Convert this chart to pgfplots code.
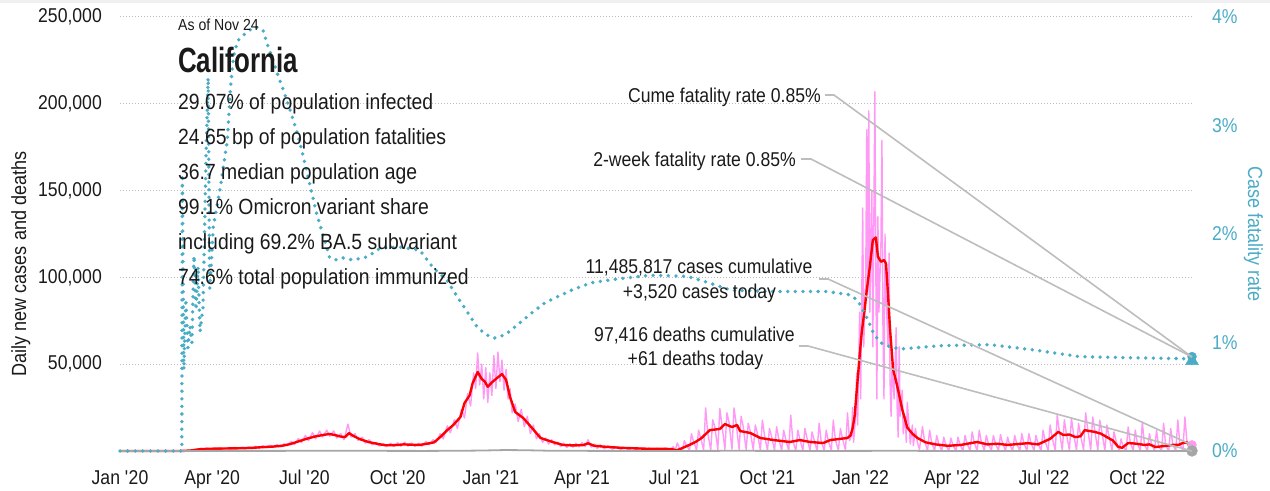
\documentclass[border=0pt]{standalone}
\usepackage{pgfplots}
\usepackage{pgfplotstable}
\pgfplotsset{compat=1.18}
\usepackage{fontspec}
\setmainfont{Liberation Sans}[FakeStretch=0.88]
\newfontfamily\titlefont{Liberation Sans}[FakeStretch=0.74]
\definecolor{teal2}{HTML}{4BACC6}
\definecolor{pinkc}{HTML}{FF99F5}
\definecolor{gridc}{HTML}{BBBBBB}
\definecolor{leader}{HTML}{BDBDBD}
\definecolor{deathc}{HTML}{A6A6A6}
\definecolor{txt}{HTML}{1A1A1A}
\definecolor{topband}{HTML}{F0F0F0}

\pgfplotstableread{
d v
0 0
58 0
62 50
65 150
68 300
71 600
74 900
77 1100
80 1400
83 1000
86 1600
89 1100
92 1700
95 900
99 1800
102 1000
106 2000
109 1100
113 2100
116 1200
120 2200
123 1300
127 2400
130 1400
134 2800
137 1600
141 3000
144 1900
148 3400
151 2000
155 3600
158 2400
162 4200
165 3000
169 5600
172 3600
176 7200
179 4800
183 9000
186 6000
190 10500
193 7000
197 11500
200 8000
204 12000
207 8500
211 11500
214 7500
218 10000
221 6500
225 15500
228 8000
232 10000
235 6000
239 8000
242 4500
246 6500
249 3500
253 5000
256 2800
260 4300
263 2500
267 4500
270 2600
274 4800
277 2800
281 5000
284 2800
288 4600
291 2700
295 4500
298 2800
302 5500
305 3500
309 6500
312 5000
316 10000
319 7000
323 14500
326 10500
330 18000
333 13000
337 24000
340 19000
343 33000
346 26000
349 45000
351 36000
353 56500
355 38000
357 50000
359 30000
361 48000
363 28000
365 45000
367 32000
369 55000
371 36000
373 57000
375 40000
377 52400
379 35000
381 47000
383 30000
385 36000
387 22000
390 27000
393 17000
396 24000
399 14000
402 20000
405 10000
408 15000
411 7000
414 10000
417 5000
420 7500
423 4000
426 6500
429 3500
432 5000
435 2500
438 4500
441 2000
444 4200
447 2200
450 4500
453 2400
456 4800
459 2500
462 6500
465 2200
468 4000
471 1500
474 3500
478 1200
482 3000
486 1000
490 2500
494 800
498 2200
502 600
506 2000
510 500
514 1800
518 400
522 1700
526 200
530 1600
534 200
538 1700
542 300
546 2500
548 300
550 4600
552 1800
554 800
555 100
557 6000
559 3200
561 1500
562 200
564 10000
566 5500
568 2500
569 300
571 12000
573 7700
575 3000
576 400
578 24800
580 10500
582 4000
583 500
585 18000
587 14000
589 5500
590 800
592 24500
594 15400
596 6000
597 900
599 22000
601 16800
603 6000
604 1000
606 24800
608 16300
610 6000
611 900
613 20000
615 14300
617 5000
618 800
620 16000
622 11500
624 4200
625 600
627 15000
629 10300
631 3800
632 500
634 17800
636 9400
638 3400
639 500
641 13000
643 8500
645 3100
646 400
648 14000
650 7500
652 2700
653 400
655 12000
657 6700
659 2400
660 300
662 20700
664 6000
666 2200
667 300
669 12000
671 6600
673 2400
674 300
676 13000
678 7500
680 2700
681 400
683 11000
685 6400
687 2300
688 300
690 16000
692 5800
694 2100
695 300
697 12000
699 6000
701 2200
702 300
704 17800
706 6500
708 2400
709 400
711 13000
713 7400
715 2700
716 500
718 22000
720 6000
722 9000
723 25000
724 5000
726 20000
727 45000
728 15000
730 80000
731 30000
733 140000
734 60000
736 100000
737 185000
738 90000
739 196000
740 80000
742 150000
743 60000
745 207000
746 100000
747 30000
748 135000
749 80000
751 120000
752 179000
753 70000
754 30000
755 125000
756 90000
758 60000
759 114000
760 40000
761 20000
762 50000
764 30000
766 71000
767 25000
768 8000
769 60000
770 20000
772 35000
773 10000
775 20000
776 5000
777 28000
779 12000
780 4000
782 15000
783 3000
785 13000
787 5000
789 1000
792 14000
794 6000
796 2200
797 200
799 12000
801 5000
803 1800
804 200
806 9000
808 4200
810 1500
811 200
813 8000
815 3600
817 1300
818 200
820 7500
822 3300
824 1200
825 200
827 8000
829 3600
831 1300
832 200
834 9000
836 4200
838 1500
839 200
841 11000
843 5000
845 1800
846 200
848 12000
850 5500
852 2000
853 200
855 9000
857 4300
859 1600
860 200
862 9000
864 4400
866 1600
867 200
869 9500
871 4400
873 1600
874 200
876 8000
878 3800
880 1400
881 200
883 9000
885 4200
887 1500
888 200
890 10000
892 4600
894 1700
895 200
897 10000
899 4800
901 1800
902 200
904 9000
906 4400
908 1600
909 200
911 12000
913 5700
915 2100
916 300
918 15000
920 7700
922 2800
923 300
925 20700
927 11500
929 4200
930 400
932 18000
934 10000
936 3700
937 400
939 19000
941 10000
943 3700
944 400
946 16000
948 9100
950 3300
951 400
953 22000
955 13000
957 4800
958 400
960 19600
962 12000
964 4500
965 400
967 17800
969 11000
971 4000
972 400
974 15000
976 8800
978 3200
979 300
981 11000
983 6000
985 2200
986 200
988 7000
990 2500
992 1000
993 100
995 13800
997 5000
999 1800
1000 200
1002 12000
1004 4700
1006 1700
1007 200
1009 16700
1011 3900
1013 1400
1014 200
1016 10000
1018 4200
1020 1500
1021 200
1023 12000
1025 2600
1027 1000
1028 200
1030 16000
1032 3100
1034 1100
1035 200
1037 13000
1039 3700
1041 1400
1042 200
1044 17800
1046 4000
1048 1400
1049 200
1051 19600
1053 5200
1055 2000
1056 500
1058 3520
}\pinkdata

\pgfplotstableread{
d v
0 0
55 0
62 50
70 300
76 800
80 1100
90 1300
100 1400
110 1500
120 1600
130 1800
140 2200
150 2500
160 3000
168 4000
176 5500
184 7000
192 8300
200 9200
207 9800
212 9200
218 8300
222 8000
226 10300
230 8800
236 7000
245 5200
255 4000
262 3300
272 3400
280 3800
288 3600
296 3500
304 4300
310 5000
316 8000
323 12000
329 15000
336 19600
340 27600
345 32000
348 39000
353 45500
357 41500
360 40000
363 37000
367 39500
372 42000
377 44300
381 41000
385 31000
390 22500
398 19000
407 13000
415 7500
427 5200
437 3500
447 3200
457 3400
462 4400
468 3000
480 2400
495 1800
510 1500
525 1200
540 1200
546 900
549 300
553 1200
562 3500
568 5200
574 7500
582 12000
592 12700
597 15500
604 13800
609 15000
612 11500
622 10400
632 7500
645 6300
661 5200
671 6300
681 5200
694 4600
701 6300
718 7500
721 9000
723 13000
725 20000
728 41000
730 55000
732 68000
735 82000
737 92700
740 106000
743 121500
746 123000
748 112000
751 109000
754 110000
756 108000
758 90000
760 70000
763 47000
766 40000
768 35000
772 24000
777 13500
782 10000
787 7500
795 5000
805 3800
817 3000
830 3500
846 5200
856 3800
866 4200
876 3500
886 4000
896 4500
906 3800
918 7000
926 11000
931 9200
937 9500
943 8000
948 8500
952 12000
957 11500
962 11000
968 10000
974 8000
980 6000
985 2500
989 1800
995 4600
1003 4200
1011 3500
1016 3800
1022 2300
1030 2800
1039 3500
1045 3600
1049 4600
1053 5000
1055 3500
1058 3900
}\reddata

\pgfplotstableread{
d v
0 0
60 0
80 50
100 80
150 70
200 130
230 140
260 90
300 50
340 150
360 300
380 550
400 450
420 200
450 100
500 40
560 30
600 100
640 80
700 40
740 80
760 150
780 100
820 30
900 20
1000 30
1058 61
}\deathdata

\pgfplotstableread{
d v
0 0
61 0
61.5 2.55
63 0.75
65 1.4
67 0.95
69 1.15
71 1.0
73 1.8
75 1.3
77 1.7
79 1.1
82 1.33
85 2.75
87 3.44
88.5 1.5
90 1.7
92 2.06
99 2.43
106 2.87
109 3.35
112 3.63
116 3.78
125 3.86
133 3.91
141 3.88
145 3.76
151 3.60
156 3.46
161 3.33
168 3.14
175 2.93
181 2.71
188 2.43
194 2.19
202 1.94
207 1.78
214 1.76
220 1.78
230 1.76
244 1.79
257 1.87
276 1.88
296 1.85
309 1.69
323 1.57
333 1.42
345 1.25
352 1.15
360 1.08
369 1.04
380 1.07
392 1.16
406 1.27
420 1.37
445 1.48
465 1.55
486 1.58
523 1.62
560 1.61
581 1.55
604 1.48
648 1.47
698 1.47
720 1.44
728 1.39
733 1.30
738 1.21
743 1.10
750 1.00
760 0.96
770 0.94
783 0.95
809 0.97
859 0.98
903 0.93
947 0.87
993 0.86
1058 0.85
}\cfrdata

\begin{document}
\begin{tikzpicture}
\fill[topband] (0bp,488bp) rectangle (1270bp,491bp);
\begin{axis}[
  at={(120bp,40bp)}, anchor=south west,
  scale only axis, width=1072bp, height=434bp,
  xmin=0, xmax=1058, ymin=0, ymax=250000,
  clip=false,
  axis line style={draw=none},
  major tick length=0pt,
  scaled y ticks=false,
  xtick={0,91,182,274,366,456,547,639,731,821,912,1004},
  xticklabels={Jan \textquotesingle20,Apr \textquotesingle20,Jul \textquotesingle20,Oct \textquotesingle20,Jan \textquotesingle21,Apr \textquotesingle21,Jul \textquotesingle21,Oct \textquotesingle21,Jan \textquotesingle22,Apr \textquotesingle22,Jul \textquotesingle22,Oct \textquotesingle22},
  ytick={50000,100000,150000,200000,250000},
  yticklabels={50{,}000,100{,}000,150{,}000,200{,}000,250{,}000},
  ymajorgrids,
  grid style={gridc, line width=1bp, dash pattern=on 1bp off 2bp},
  tick label style={font=\fontsize{20bp}{24bp}\selectfont, text=txt},
  xticklabel style={anchor=north, inner sep=0pt, yshift=-19bp},
  yticklabel style={anchor=east, inner sep=0pt, xshift=-18bp},
]
\addplot[pinkc, line width=1.4bp, line join=round] table[x=d,y=v] {\pinkdata};
\addplot[red, line width=2.4bp, line join=round] table[x=d,y=v] {\reddata};
\addplot[deathc, line width=1.8bp] table[x=d,y=v] {\deathdata};
\addplot[only marks, mark=*, mark size=4.5bp, color=pinkc] coordinates {(1058,3520)};
\addplot[only marks, mark=*, mark size=5.5bp, color=deathc] coordinates {(1058,61)};
\end{axis}
\begin{axis}[
  at={(120bp,40bp)}, anchor=south west,
  scale only axis, width=1072bp, height=434bp,
  xmin=0, xmax=1058, ymin=0, ymax=4,
  clip=false,
  axis x line=none, axis y line*=right,
  axis line style={draw=none},
  major tick length=0pt,
  ytick={0,1,2,3,4},
  yticklabels={0\%,1\%,2\%,3\%,4\%},
  yticklabel style={font=\fontsize{20bp}{24bp}\selectfont, text=teal2, anchor=west, inner sep=0pt, xshift=20bp},
]
\addplot[teal2, line width=3.8bp, dash pattern=on 0bp off 7.6bp, line cap=round] table[x=d,y=v] {\cfrdata};
\addplot[only marks, mark=triangle*, mark size=7.5bp, color=teal2] coordinates {(1058,0.83)};
\addplot[only marks, mark=*, mark size=4.5bp, color=teal2] coordinates {(1058,0.87)};
\end{axis}

% leader lines
\begin{scope}[leader, line width=1.6bp]
\draw (825bp,396bp) -- (834bp,396bp) -- (1192bp,134bp);
\draw (801bp,332bp) -- (811bp,332bp) -- (1192bp,134bp);
\draw (819bp,212bp) -- (828bp,212bp) -- (1192bp,46bp);
\draw (799bp,145bp) -- (808bp,145bp) -- (1192bp,40bp);
\end{scope}

% info block
\begin{scope}[every node/.style={inner sep=0pt, text=txt}]
\node[anchor=base west, font=\fontsize{16bp}{18bp}\selectfont] at (178bp,460bp) {As of Nov 24};
\node[anchor=base west, font=\titlefont\bfseries\fontsize{35bp}{40bp}\selectfont] at (178bp,418bp) {California};
\node[anchor=base west, font=\fontsize{22bp}{26bp}\selectfont] at (178bp,381bp) {29.07\% of population infected};
\node[anchor=base west, font=\fontsize{22bp}{26bp}\selectfont] at (178bp,346bp) {24.65 bp of population fatalities};
\node[anchor=base west, font=\fontsize{22bp}{26bp}\selectfont] at (178bp,311bp) {36.7 median population age};
\node[anchor=base west, font=\fontsize{22bp}{26bp}\selectfont] at (178bp,276bp) {99.1\% Omicron variant share};
\node[anchor=base west, font=\fontsize{22bp}{26bp}\selectfont] at (178bp,241bp) {including 69.2\% BA.5 subvariant};
\node[anchor=base west, font=\fontsize{22bp}{26bp}\selectfont] at (178bp,206bp) {74.6\% total population immunized};

\node[anchor=base east, font=\fontsize{20bp}{24bp}\selectfont] at (821bp,388bp) {Cume fatality rate 0.85\%};
\node[anchor=base east, font=\fontsize{20bp}{24bp}\selectfont] at (796bp,324bp) {2-week fatality rate 0.85\%};
\node[anchor=base, font=\fontsize{20bp}{24bp}\selectfont] at (699bp,217bp) {11,485,817 cases cumulative};
\node[anchor=base, font=\fontsize{20bp}{24bp}\selectfont] at (699.5bp,192bp) {+3,520 cases today};
\node[anchor=base, font=\fontsize{20bp}{24bp}\selectfont] at (694.5bp,149bp) {97,416 deaths cumulative};
\node[anchor=base, font=\fontsize{20bp}{24bp}\selectfont] at (695.5bp,125bp) {+61 deaths today};

\node[rotate=90, anchor=base, font=\fontsize{20.5bp}{24bp}\selectfont] at (26bp,227bp) {Daily new cases and deaths};
\node[rotate=-90, anchor=base, text=teal2, font=\fontsize{20.5bp}{24bp}\selectfont] at (1248bp,257bp) {Case fatality rate};
\end{scope}

\pgfresetboundingbox
\path[use as bounding box] (0bp,0bp) rectangle (1270bp,491bp);
\end{tikzpicture}
\end{document}
